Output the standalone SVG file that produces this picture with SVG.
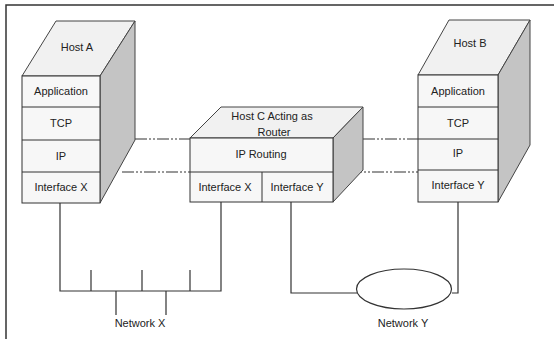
<svg xmlns="http://www.w3.org/2000/svg" width="554" height="339" viewBox="0 0 554 339">
<style>
  .front{fill:#f7f7f7;stroke:#333;stroke-width:1}
  .top{fill:#f1f1f1;stroke:#444;stroke-width:1}
  .side{fill:#c4c4c4;stroke:#444;stroke-width:1}
  .row{stroke:#333;stroke-width:1;fill:none}
  .t{font-family:"Liberation Sans",Arial,sans-serif;font-size:11px;fill:#222;text-anchor:middle}
  .wire{stroke:#333;stroke-width:1.2;fill:none}
  .dd{stroke:#333;stroke-width:1.2;fill:none;stroke-dasharray:12 2 2 2 2 2}
</style>
<rect x="0" y="0" width="554" height="339" fill="#fff"/>
<path d="M6,339 V5 H554" stroke="#333" stroke-width="1.5" fill="none"/>

<g id="connectors">
  <line class="dd" x1="135" y1="139" x2="190" y2="139"/>
  <line class="dd" x1="122" y1="172" x2="190" y2="172"/>
  <line class="dd" x1="363" y1="139" x2="418" y2="139"/>
  <line class="dd" x1="350" y1="172" x2="418" y2="172"/>
  <path class="wire" d="M60,203 V291 H221 V202"/>
  <path class="wire" d="M91,291 V270 M142,291 V270 M190,291 V270 M116,291 V315 M166,291 V315"/>
  <path class="wire" d="M291,202 V293 H357"/>
  <path class="wire" d="M452,293 H458 V202"/>
</g>

<g id="hostA">
  <polygon class="top" points="22,76 56,21 135,21 100,76"/>
  <polygon class="side" points="100,76 135,21 135,140 100,203"/>
  <rect class="front" x="22" y="76" width="78" height="127"/>
  <path class="row" d="M22,107 H100 M22,140 H100 M22,172 H100"/>
  <text class="t" x="77" y="51">Host A</text>
  <text class="t" x="61" y="95">Application</text>
  <text class="t" x="61" y="127">TCP</text>
  <text class="t" x="61" y="160">IP</text>
  <text class="t" x="61" y="191">Interface X</text>
</g>

<g id="hostC">
  <polygon class="top" points="190,138 221,107 363,107 333,138"/>
  <polygon class="side" points="333,138 363,107 363,170 333,202"/>
  <rect class="front" x="190" y="138" width="143" height="64"/>
  <path class="row" d="M190,172 H333 M262,172 V202"/>
  <text class="t" x="272" y="120">Host C Acting as</text>
  <text class="t" x="274" y="136">Router</text>
  <text class="t" x="261" y="158">IP Routing</text>
  <text class="t" x="225" y="191">Interface X</text>
  <text class="t" x="297" y="191">Interface Y</text>
</g>

<g id="hostB">
  <polygon class="top" points="418,75 449,20 530,20 498,75"/>
  <polygon class="side" points="498,75 530,20 530,145 498,202"/>
  <rect class="front" x="418" y="75" width="80" height="127"/>
  <path class="row" d="M418,107 H498 M418,139 H498 M418,170 H498"/>
  <text class="t" x="470" y="47">Host B</text>
  <text class="t" x="458" y="95">Application</text>
  <text class="t" x="458" y="127">TCP</text>
  <text class="t" x="458" y="157">IP</text>
  <text class="t" x="458" y="189">Interface Y</text>
</g>

<g id="networkX">
  <text class="t" x="140" y="327">Network X</text>
</g>

<g id="networkY">
  <ellipse cx="404" cy="289" rx="47.5" ry="20" fill="#fff" stroke="#333" stroke-width="1.2"/>
  <text class="t" x="403" y="327">Network Y</text>
</g>
</svg>
